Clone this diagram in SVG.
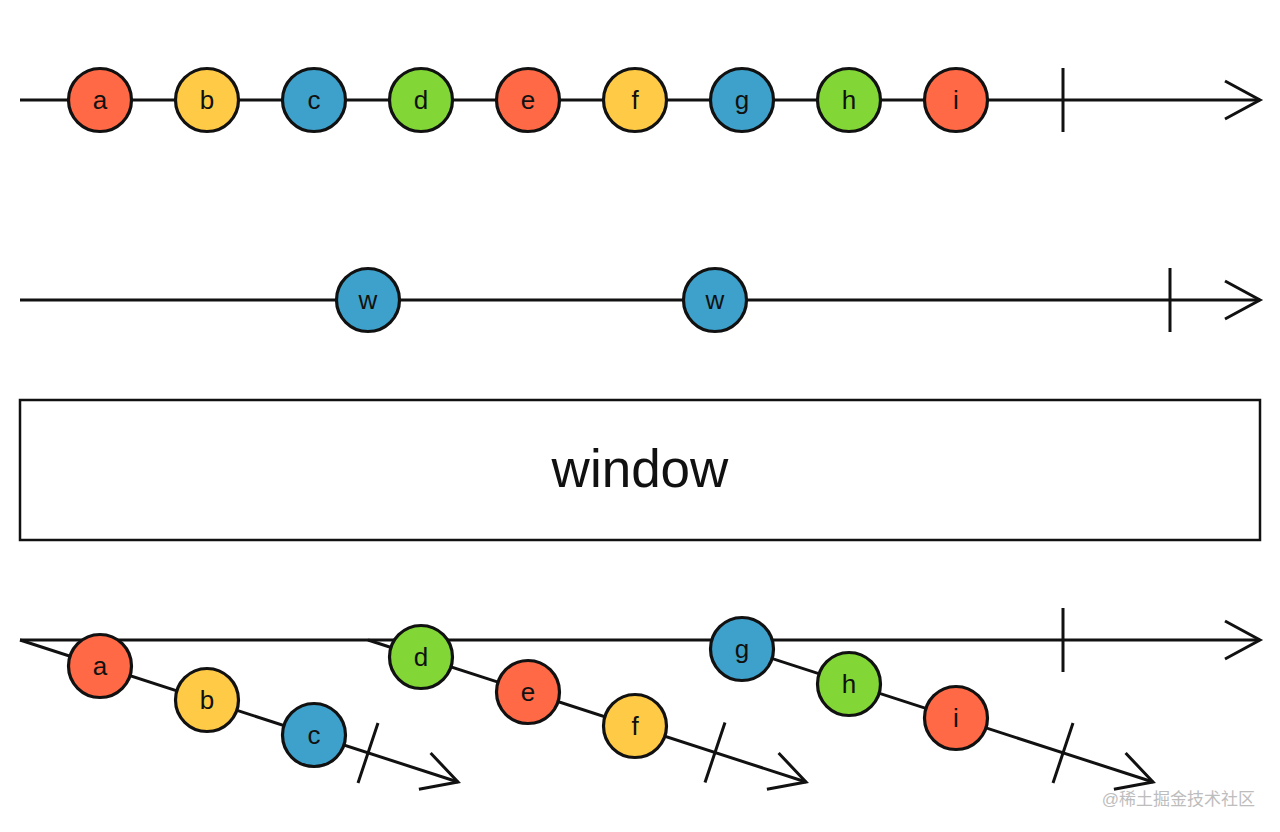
<svg xmlns="http://www.w3.org/2000/svg" width="1280" height="832" viewBox="0 0 1280 832">
<style>
.ln{stroke:#111;stroke-width:3;fill:none;stroke-linecap:butt}
.m circle{stroke:#111;stroke-width:3.2}
.m text{font-family:"Liberation Sans",Arial,sans-serif;font-size:26px;text-anchor:middle;fill:#111}
.r{fill:#FF6946}.y{fill:#FFCB46}.b{fill:#3EA1CB}.g{fill:#82D736}
</style>
<rect width="1280" height="832" fill="#fff"/>
<g id="connectors">
<line class="ln" x1="20" y1="100" x2="1260" y2="100"/>
<line class="ln" x1="1063" y1="68" x2="1063" y2="132"/>
<polyline class="ln" points="1225,81 1260,100 1225,119"/>
<line class="ln" x1="20" y1="300" x2="1260" y2="300"/>
<line class="ln" x1="1170" y1="268" x2="1170" y2="332"/>
<polyline class="ln" points="1225,281 1260,300 1225,319"/>
<line class="ln" x1="20" y1="640" x2="1260" y2="640"/>
<line class="ln" x1="1063" y1="608" x2="1063" y2="672"/>
<polyline class="ln" points="1225,621 1260,640 1225,659"/>
<g id="d1">
<line class="ln" x1="20" y1="640" x2="458" y2="782"/>
<line class="ln" x1="378" y1="723" x2="358" y2="783"/>
<polyline class="ln" points="430.6,753 458,782 418.9,789.3"/>
</g>
<g id="d2">
<line class="ln" x1="368" y1="640" x2="806" y2="782"/>
<line class="ln" x1="725" y1="722.5" x2="705" y2="782.5"/>
<polyline class="ln" points="778.6,753 806,782 766.9,789.3"/>
</g>
<g id="d3">
<line class="ln" x1="715" y1="640" x2="1153" y2="782"/>
<line class="ln" x1="1073" y1="723" x2="1053" y2="783"/>
<polyline class="ln" points="1125.6,753 1153,782 1113.9,789.3"/>
</g>
</g>
<g id="top" class="m">
<g id="t-a"><circle class="r" cx="100" cy="100" r="31.5"/><text x="100" y="109">a</text></g>
<g id="t-b"><circle class="y" cx="207" cy="100" r="31.5"/><text x="207" y="109">b</text></g>
<g id="t-c"><circle class="b" cx="314" cy="100" r="31.5"/><text x="314" y="109">c</text></g>
<g id="t-d"><circle class="g" cx="421" cy="100" r="31.5"/><text x="421" y="109">d</text></g>
<g id="t-e"><circle class="r" cx="528" cy="100" r="31.5"/><text x="528" y="109">e</text></g>
<g id="t-f"><circle class="y" cx="635" cy="100" r="31.5"/><text x="635" y="109">f</text></g>
<g id="t-g"><circle class="b" cx="742" cy="100" r="31.5"/><text x="742" y="109">g</text></g>
<g id="t-h"><circle class="g" cx="849" cy="100" r="31.5"/><text x="849" y="109">h</text></g>
<g id="t-i"><circle class="r" cx="956" cy="100" r="31.5"/><text x="956" y="109">i</text></g>
</g>
<g id="mid" class="m">
<g id="w1"><circle class="b" cx="368" cy="300" r="31.5"/><text x="368" y="309">w</text></g>
<g id="w2"><circle class="b" cx="715" cy="300" r="31.5"/><text x="715" y="309">w</text></g>
</g>
<g id="window">
<rect x="20" y="400" width="1240" height="140" fill="#fff" stroke="#111" stroke-width="2.5"/>
<text x="640" y="487" font-family="Liberation Sans,Arial,sans-serif" font-size="53" text-anchor="middle" fill="#111">window</text>
</g>
<g id="bottom" class="m">
<g id="b-a"><circle class="r" cx="100" cy="666" r="31.5"/><text x="100" y="675">a</text></g>
<g id="b-b"><circle class="y" cx="207" cy="700" r="31.5"/><text x="207" y="709">b</text></g>
<g id="b-c"><circle class="b" cx="314" cy="735" r="31.5"/><text x="314" y="744">c</text></g>
<g id="b-d"><circle class="g" cx="421" cy="657" r="31.5"/><text x="421" y="666">d</text></g>
<g id="b-e"><circle class="r" cx="528" cy="692" r="31.5"/><text x="528" y="701">e</text></g>
<g id="b-f"><circle class="y" cx="635" cy="726" r="31.5"/><text x="635" y="735">f</text></g>
<g id="b-g"><circle class="b" cx="742" cy="649" r="31.5"/><text x="742" y="658">g</text></g>
<g id="b-h"><circle class="g" cx="849" cy="684" r="31.5"/><text x="849" y="693">h</text></g>
<g id="b-i"><circle class="r" cx="956" cy="718" r="31.5"/><text x="956" y="727">i</text></g>
</g>
<text x="1255" y="805" font-family="Liberation Sans,'Noto Sans CJK SC',sans-serif" font-size="17" text-anchor="end" fill="#bdbdbd">@稀土掘金技术社区</text>
</svg>
